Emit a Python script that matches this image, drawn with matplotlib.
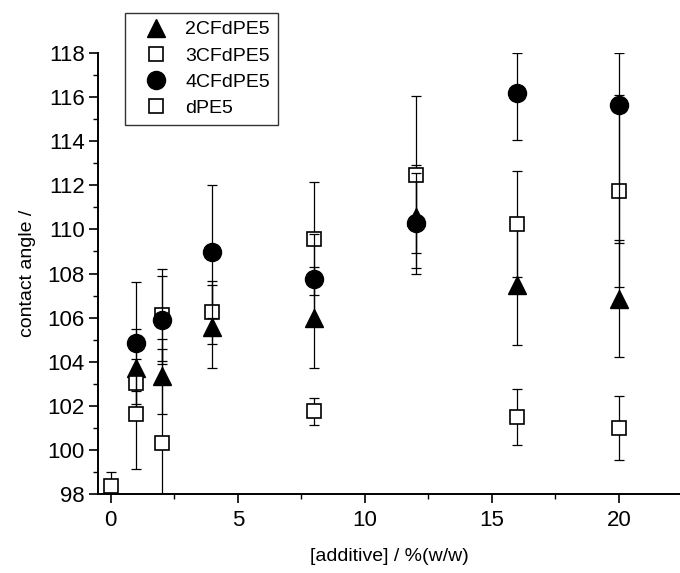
import matplotlib
matplotlib.use("Agg")
import matplotlib.pyplot as plt
from matplotlib.lines import Line2D
from matplotlib.ticker import MultipleLocator
import numpy as np

plt.rcParams['font.family'] = ['Liberation Sans', 'DejaVu Sans']

# ---- data ----
series_names = ["2CFdPE5", "3CFdPE5", "4CFdPE5", "dPE5"]

x_2cf = [1, 2, 4, 8, 12, 16, 20]
y_2cf = [103.70, 103.35, 105.59, 106.00, 110.58, 107.48, 106.86]
e_2cf = [1.77, 1.70, 1.87, 2.30, 2.35, 2.72, 2.65]

x_3cf = [1, 2, 4, 8, 12, 16, 20]
y_3cf = [103.05, 106.12, 106.24, 109.58, 112.48, 110.24, 111.74]
e_3cf = [0.40, 2.10, 1.42, 2.56, 3.57, 2.42, 4.34]

x_4cf = [1, 2, 4, 8, 12, 16, 20]
y_4cf = [104.86, 105.89, 108.99, 107.75, 110.28, 116.17, 115.64]
e_4cf_lo = [2.77, 2.00, 3.02, 2.04, 2.30, 2.12, 6.27]
e_4cf_hi = [2.77, 2.00, 3.02, 2.04, 2.30, 1.82, 2.35]

x_dpe = [0, 1, 2, 8, 16, 20]
y_dpe = [98.38, 101.63, 100.33, 101.75, 101.48, 100.98]
e_dpe = [0.60, 2.50, 4.23, 0.60, 1.26, 1.45]

x_ticks = [0, 5, 10, 15, 20]
y_ticks = [98, 100, 102, 104, 106, 108, 110, 112, 114, 116, 118]

# ---- figure ----
W, H = 680, 573
fig = plt.figure(figsize=(W / 100, H / 100), dpi=100)
ax = fig.add_axes([98 / W, 1 - 494 / H, (W - 98) / W, (494 - 53) / H])

styles = [
    dict(marker='^', ms=13, mfc='black', mec='black', mew=1.0),
    dict(marker='s', ms=10.5, mfc='white', mec='black', mew=1.2),
    dict(marker='o', ms=13, mfc='black', mec='black', mew=1.0),
    dict(marker='s', ms=10.5, mfc='white', mec='black', mew=1.2),
]
data = [
    (x_2cf, y_2cf, [e_2cf, e_2cf]),
    (x_3cf, y_3cf, [e_3cf, e_3cf]),
    (x_4cf, y_4cf, [e_4cf_lo, e_4cf_hi]),
    (x_dpe, y_dpe, [e_dpe, e_dpe]),
]

for i, ((xs, ys, err), st) in enumerate(zip(data, styles)):
    z = 3 + 2 * i
    ax.errorbar(xs, ys, yerr=np.array(err), fmt='none', ecolor='black',
                elinewidth=0.9, capsize=3.6, capthick=0.9, zorder=z)
    ax.plot(xs, ys, linestyle='none', zorder=z + 1, **st)

ax.set_xlim(-0.5, 22.4)
ax.set_ylim(98, 118)
ax.set_xticks(x_ticks)
ax.set_yticks(y_ticks)
ax.xaxis.set_minor_locator(MultipleLocator(2.5))
ax.yaxis.set_minor_locator(MultipleLocator(1))

for s in ['top', 'right']:
    ax.spines[s].set_visible(False)
for s in ['left', 'bottom']:
    ax.spines[s].set_linewidth(1.4)

ax.tick_params(which='major', direction='out', length=6.5, width=1.2,
               labelsize=16)
ax.tick_params(axis='y', which='major', pad=3)
ax.tick_params(axis='x', which='major', pad=5)
ax.tick_params(which='minor', direction='out', length=3.6, width=1.0)

ax.set_xlabel("[additive] / %(w/w)", fontsize=14, labelpad=12)
ax.set_ylabel("contact angle /", fontsize=14, labelpad=8)

handles = [Line2D([], [], linestyle='none', **st) for st in styles]
leg = fig.legend(handles, series_names, loc='upper left',
                 bbox_to_anchor=(125 / W, 1 - 13 / H), borderaxespad=0,
                 fontsize=14, frameon=True, fancybox=False,
                 edgecolor='black', handlelength=2.4, handletextpad=0.3,
                 labelspacing=0.44, borderpad=0.4)
leg.get_frame().set_linewidth(1.0)

fig.savefig("out.png", dpi=100)
